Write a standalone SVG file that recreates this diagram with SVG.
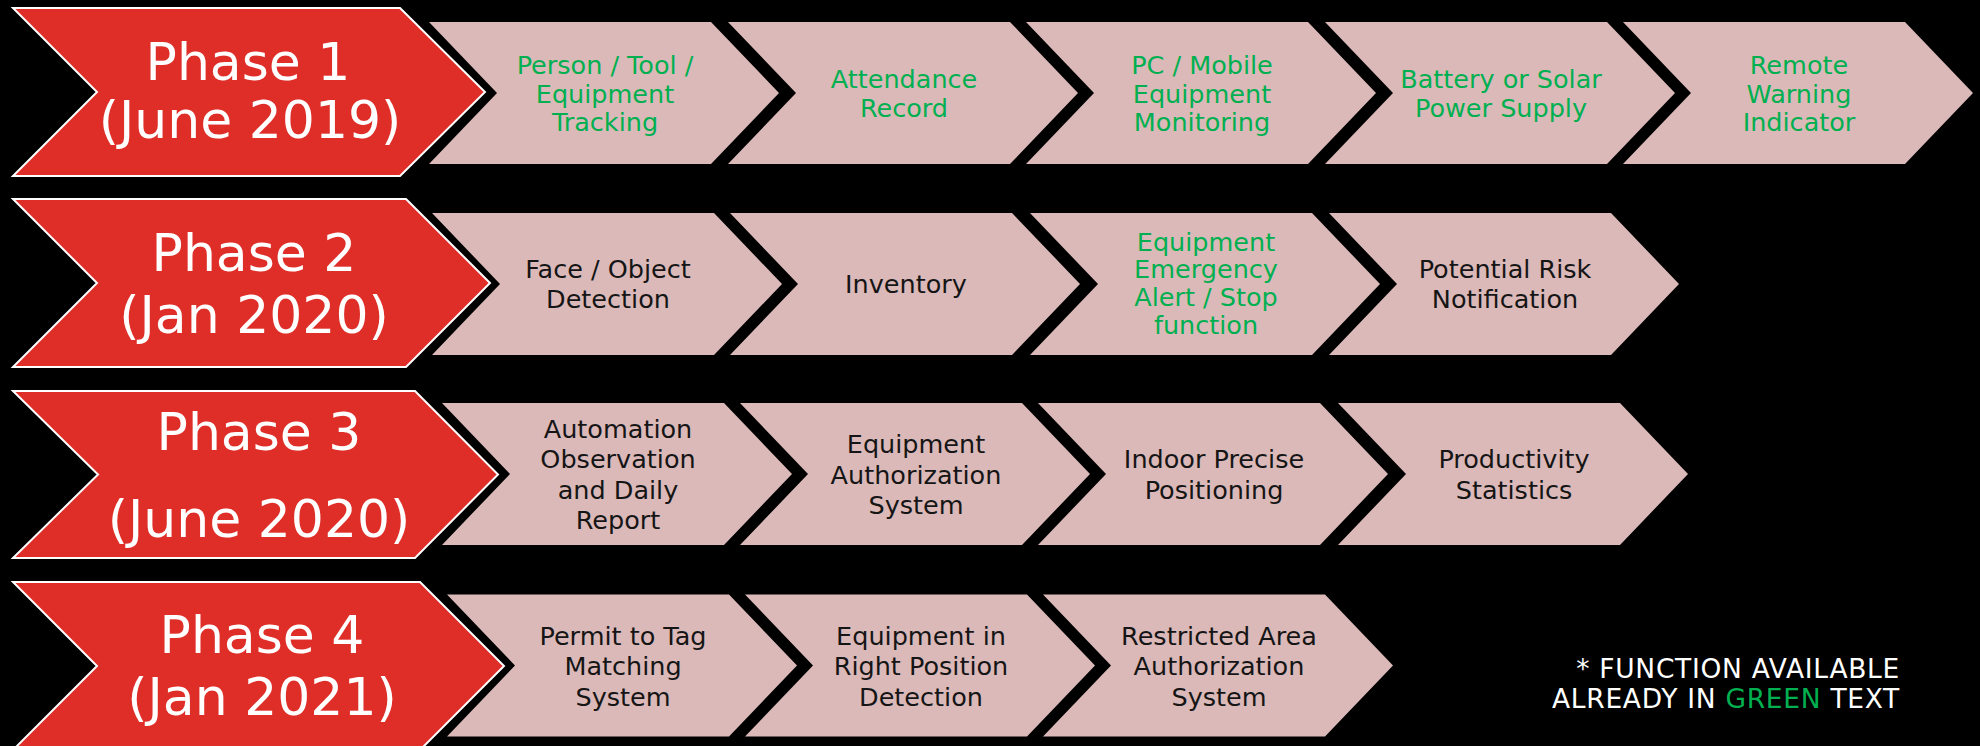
<svg xmlns="http://www.w3.org/2000/svg" xmlns:xlink="http://www.w3.org/1999/xlink" width="1980" height="746" viewBox="0 0 1980 746">
  <style>
    .phase { fill: #df2d28; stroke: #ffffff; stroke-width: 2; stroke-linejoin: miter; }
    .step { fill: #dbb9b9; }
    .ph { font-family: "DejaVu Sans", "Liberation Sans", sans-serif; font-size: 52px; fill: #ffffff; text-anchor: middle; }
    .lbl { font-family: "DejaVu Sans", "Liberation Sans", sans-serif; font-size: 25.5px; fill: #151515; text-anchor: middle; }
    .done { fill: #00b050; }
    .note { font-family: "DejaVu Sans", "Liberation Sans", sans-serif; font-size: 26.5px; letter-spacing: 0.7px; fill: #ffffff; text-anchor: end; }
  </style>
  <defs>
    <!-- feature step chevron: 282 wide body, 68 deep point, 142 high -->
    <polygon id="chev" points="0,0 282,0 350,71 282,142 0,142 68,71"/>
  </defs>

  <rect x="0" y="0" width="1980" height="746" fill="#000000"/>

  <!-- Phase 1 -->
  <g id="phase1">
    <polygon class="phase" points="13,8 400,8 485,92 400,176 13,176 97,92"/>
    <text class="ph" x="248" y="80">Phase 1</text>
    <text class="ph" x="250" y="138">(June 2019)</text>
  </g>
  <g id="p1-tracking">
    <use href="#chev" class="step" x="429" y="22"/>
    <text class="lbl done" x="605" y="74">Person / Tool /</text>
    <text class="lbl done" x="605" y="102.5">Equipment</text>
    <text class="lbl done" x="605" y="131">Tracking</text>
  </g>
  <g id="p1-attendance">
    <use href="#chev" class="step" x="728" y="22"/>
    <text class="lbl done" x="904" y="88">Attendance</text>
    <text class="lbl done" x="904" y="117">Record</text>
  </g>
  <g id="p1-monitoring">
    <use href="#chev" class="step" x="1026" y="22"/>
    <text class="lbl done" x="1202" y="74">PC / Mobile</text>
    <text class="lbl done" x="1202" y="102.5">Equipment</text>
    <text class="lbl done" x="1202" y="131">Monitoring</text>
  </g>
  <g id="p1-power">
    <use href="#chev" class="step" x="1325" y="22"/>
    <text class="lbl done" x="1501" y="88">Battery or Solar</text>
    <text class="lbl done" x="1501" y="117">Power Supply</text>
  </g>
  <g id="p1-warning">
    <use href="#chev" class="step" x="1623" y="22"/>
    <text class="lbl done" x="1799" y="74">Remote</text>
    <text class="lbl done" x="1799" y="102.5">Warning</text>
    <text class="lbl done" x="1799" y="131">Indicator</text>
  </g>

  <!-- Phase 2 -->
  <g id="phase2">
    <polygon class="phase" points="13,199 406,199 490,283 406,367 13,367 97,283"/>
    <text class="ph" x="254" y="271">Phase 2</text>
    <text class="ph" x="254" y="333">(Jan 2020)</text>
  </g>
  <g id="p2-detection">
    <use href="#chev" class="step" x="432" y="213"/>
    <text class="lbl" x="608" y="278">Face / Object</text>
    <text class="lbl" x="608" y="308">Detection</text>
  </g>
  <g id="p2-inventory">
    <use href="#chev" class="step" x="730" y="213"/>
    <text class="lbl" x="906" y="293">Inventory</text>
  </g>
  <g id="p2-emergency">
    <use href="#chev" class="step" x="1030" y="213"/>
    <text class="lbl done" x="1206" y="250.5">Equipment</text>
    <text class="lbl done" x="1206" y="278.2">Emergency</text>
    <text class="lbl done" x="1206" y="305.9">Alert / Stop</text>
    <text class="lbl done" x="1206" y="333.6">function</text>
  </g>
  <g id="p2-risk">
    <use href="#chev" class="step" x="1329" y="213"/>
    <text class="lbl" x="1505" y="278">Potential Risk</text>
    <text class="lbl" x="1505" y="308">Notification</text>
  </g>

  <!-- Phase 3 -->
  <g id="phase3">
    <polygon class="phase" points="13,391 415,391 498,474.5 415,558 13,558 98,474.5"/>
    <text class="ph" x="259" y="450">Phase 3</text>
    <text class="ph" x="259" y="537">(June 2020)</text>
  </g>
  <g id="p3-report">
    <use href="#chev" class="step" x="442" y="403"/>
    <text class="lbl" x="618" y="437.8">Automation</text>
    <text class="lbl" x="618" y="468.3">Observation</text>
    <text class="lbl" x="618" y="498.8">and Daily</text>
    <text class="lbl" x="618" y="529.3">Report</text>
  </g>
  <g id="p3-authorization">
    <use href="#chev" class="step" x="740" y="403"/>
    <text class="lbl" x="916" y="453">Equipment</text>
    <text class="lbl" x="916" y="483.5">Authorization</text>
    <text class="lbl" x="916" y="514">System</text>
  </g>
  <g id="p3-positioning">
    <use href="#chev" class="step" x="1038" y="403"/>
    <text class="lbl" x="1214" y="468.3">Indoor Precise</text>
    <text class="lbl" x="1214" y="498.8">Positioning</text>
  </g>
  <g id="p3-statistics">
    <use href="#chev" class="step" x="1338" y="403"/>
    <text class="lbl" x="1514" y="468.3">Productivity</text>
    <text class="lbl" x="1514" y="498.8">Statistics</text>
  </g>

  <!-- Phase 4 -->
  <g id="phase4">
    <polygon class="phase" points="13,582 420,582 504,666 420,750 13,750 97,666"/>
    <text class="ph" x="262" y="653">Phase 4</text>
    <text class="ph" x="262" y="715">(Jan 2021)</text>
  </g>
  <g id="p4-permit">
    <use href="#chev" class="step" x="447" y="594.5"/>
    <text class="lbl" x="623" y="644.5">Permit to Tag</text>
    <text class="lbl" x="623" y="675">Matching</text>
    <text class="lbl" x="623" y="705.5">System</text>
  </g>
  <g id="p4-position">
    <use href="#chev" class="step" x="745" y="594.5"/>
    <text class="lbl" x="921" y="644.5">Equipment in</text>
    <text class="lbl" x="921" y="675">Right Position</text>
    <text class="lbl" x="921" y="705.5">Detection</text>
  </g>
  <g id="p4-restricted">
    <use href="#chev" class="step" x="1043" y="594.5"/>
    <text class="lbl" x="1219" y="644.5">Restricted Area</text>
    <text class="lbl" x="1219" y="675">Authorization</text>
    <text class="lbl" x="1219" y="705.5">System</text>
  </g>

  <!-- legend note -->
  <g id="legend">
    <text class="note" x="1900" y="678">* FUNCTION AVAILABLE</text>
    <text class="note" x="1900" y="708">ALREADY IN <tspan fill="#00b050">GREEN</tspan> TEXT</text>
  </g>

  <!-- sequence is shown by chevron adjacency; no separate connector lines -->
  <g id="connectors"/>
</svg>
